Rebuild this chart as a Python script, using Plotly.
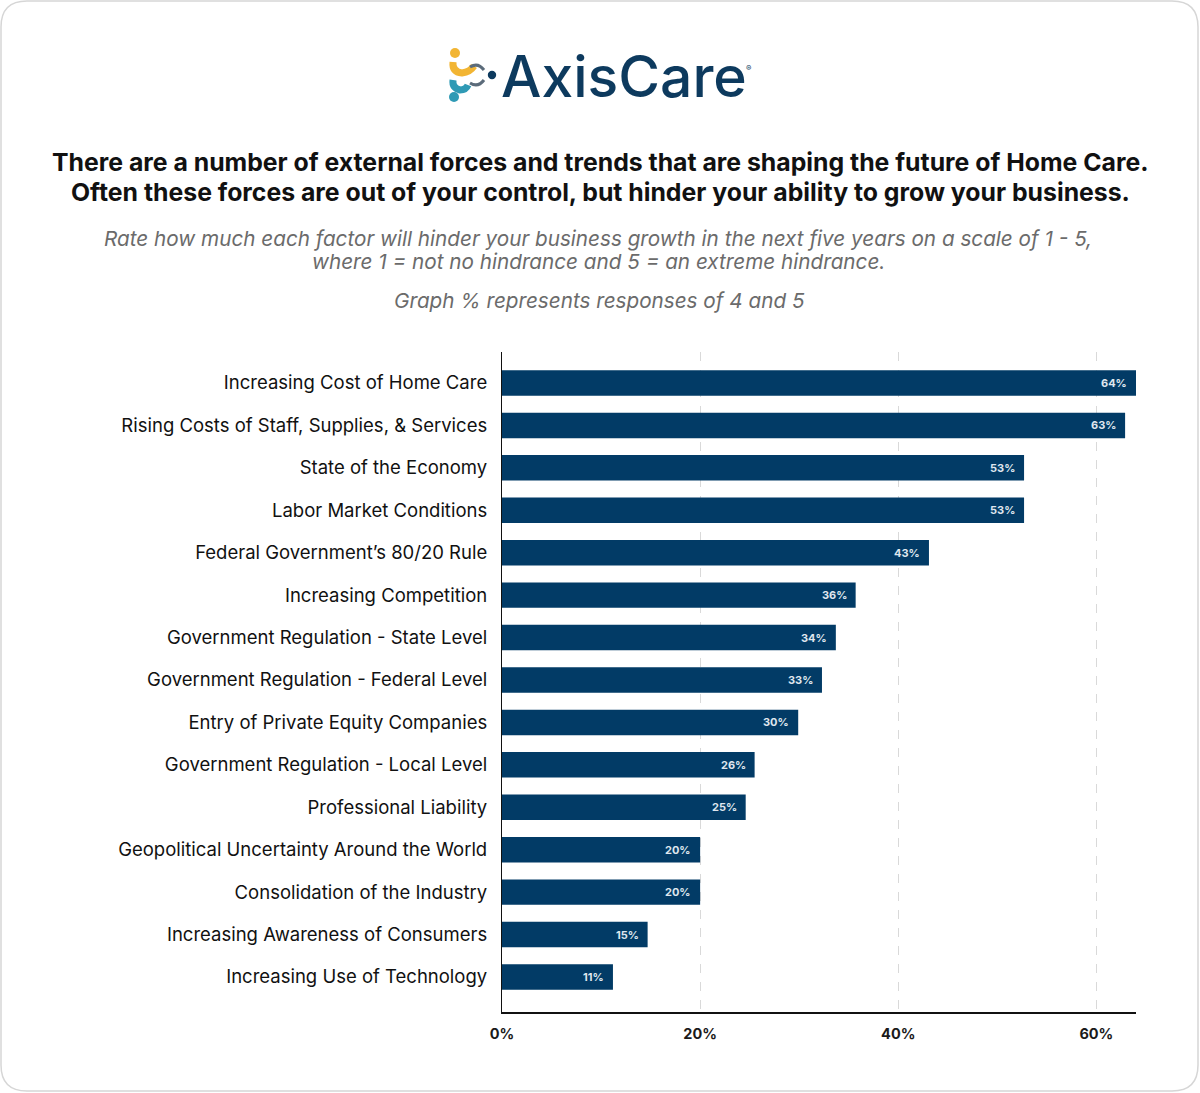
import plotly.graph_objects as go

categories = [
    "Increasing Cost of Home Care",
    "Rising Costs of Staff, Supplies, & Services",
    "State of the Economy",
    "Labor Market Conditions",
    "Federal Government’s 80/20 Rule",
    "Increasing Competition",
    "Government Regulation - State Level",
    "Government Regulation - Federal Level",
    "Entry of Private Equity Companies",
    "Government Regulation - Local Level",
    "Professional Liability",
    "Geopolitical Uncertainty Around the World",
    "Consolidation of the Industry",
    "Increasing Awareness of Consumers",
    "Increasing Use of Technology",
]
values = [64.0, 62.9, 52.7, 52.7, 43.1, 35.7, 33.7, 32.3, 29.9, 25.5, 24.6, 20.0, 20.0, 14.7, 11.2]
value_labels = ["64%", "63%", "53%", "53%", "43%", "36%", "34%", "33%", "30%", "26%", "25%", "20%", "20%", "15%", "11%"]
x_ticks = [0, 20, 40, 60]
x_tick_text = ["0%", "20%", "40%", "60%"]

W, H = 1200, 1093
L, R, T, B = 502, 1136, 352, 1012
NAVY = "#023b66"
FONT = "Inter"


def px(x):
    return (x - L) / (R - L)


def py(y):
    return (B - y) / (B - T)


fig = go.Figure()
fig.add_trace(go.Bar(
    x=values, y=categories, orientation="h",
    marker=dict(color=NAVY, line=dict(width=0)),
    width=0.6, hoverinfo="skip",
))

annotations = []
for v, c, t in zip(values, categories, value_labels):
    annotations.append(dict(x=v, y=c, xref="x", yref="y", text=t, showarrow=False,
                            xanchor="right", yanchor="middle", xshift=-7,
                            font=dict(family=FONT, size=11, color="#dfe6ee", weight=700)))

# Title & subtitle
title_lines = [
    "There are a number of external forces and trends that are shaping the future of Home Care.",
    "Often these forces are out of your control, but hinder your ability to grow your business.",
]
for line, y in zip(title_lines, [162, 192]):
    annotations.append(dict(x=px(600), y=py(y), xref="paper", yref="paper", showarrow=False,
                            xanchor="center", yanchor="middle", text=line,
                            font=dict(family=FONT, size=24.8, color="#111111", weight=700)))
sub_lines = [
    "Rate how much each factor will hinder your business growth in the next five years on a scale of 1 - 5,",
    "where 1 = not no hindrance and 5 = an extreme hindrance.",
    "Graph % represents responses of 4 and 5",
]
for line, y, x in zip(sub_lines, [238, 262, 301], [598, 598, 599]):
    annotations.append(dict(x=px(x), y=py(y), xref="paper", yref="paper", showarrow=False,
                            xanchor="center", yanchor="middle", text=f"<i>{line}</i>",
                            font=dict(family=FONT, size=20.7, color="#6b6b6b")))
# Logo text
annotations.append(dict(x=px(499), y=py(77), xref="paper", yref="paper", showarrow=False,
                        xanchor="left", yanchor="middle", text="AxisCare",
                        font=dict(family=FONT, size=57, color="#0d3a5e", weight=500)))
annotations.append(dict(x=px(744), y=py(68), xref="paper", yref="paper", showarrow=False,
                        xanchor="left", yanchor="middle", text="®",
                        font=dict(family=FONT, size=8, color="#0d3a5e")))

shapes = []
# Rounded border
r = 26
x0, y0, x1, y1 = 1, 1, 1198, 1091


def P(x, y):
    return f"{px(x):.5f},{py(y):.5f}"


path = (f"M {P(x0 + r, y0)} L {P(x1 - r, y0)} Q {P(x1, y0)} {P(x1, y0 + r)} "
        f"L {P(x1, y1 - r)} Q {P(x1, y1)} {P(x1 - r, y1)} L {P(x0 + r, y1)} "
        f"Q {P(x0, y1)} {P(x0, y1 - r)} L {P(x0, y0 + r)} Q {P(x0, y0)} {P(x0 + r, y0)} Z")
shapes.append(dict(type="path", xref="paper", yref="paper", path=path,
                   line=dict(color="#d6d6d6", width=1.5), layer="below"))


# Logo icon
def circle(cx, cy, rad, color):
    return dict(type="circle", xref="paper", yref="paper",
                x0=px(cx - rad), x1=px(cx + rad), y0=py(cy + rad), y1=py(cy - rad),
                fillcolor=color, line=dict(width=0))


YEL, TEAL, GREY = "#f2b533", "#2f9ab5", "#5b6b7a"
shapes.append(dict(type="path", xref="paper", yref="paper",
                   path=f"M {P(453, 62)} Q {P(452, 72)} {P(462, 73)} Q {P(470, 72)} {P(474, 66)}",
                   line=dict(color=YEL, width=7)))
shapes.append(dict(type="path", xref="paper", yref="paper",
                   path=f"M {P(453, 80)} Q {P(452, 88)} {P(460, 90)} Q {P(466, 90)} {P(468, 85)}",
                   line=dict(color=TEAL, width=7)))
shapes.append(dict(type="path", xref="paper", yref="paper",
                   path=f"M {P(470, 67)} Q {P(478, 62)} {P(484, 70)} M {P(470, 83)} Q {P(478, 88)} {P(484, 80)}",
                   line=dict(color=GREY, width=3)))
shapes.append(circle(455, 53, 5, YEL))
shapes.append(circle(454, 97, 5, TEAL))
shapes.append(circle(492, 75, 4.2, "#0d3a5e"))

fig.update_layout(
    width=W, height=H,
    margin=dict(l=L, r=W - R, t=T, b=H - B, pad=0),
    paper_bgcolor="white", plot_bgcolor="white",
    showlegend=False,
    annotations=annotations, shapes=shapes,
    font=dict(family=FONT),
    xaxis=dict(range=[0, 64], tickmode="array", tickvals=x_ticks, ticktext=x_tick_text,
               showgrid=True, gridcolor="#d9d9d9", griddash="dash", gridwidth=1,
               zeroline=False, showline=True, linecolor="#111111", linewidth=1.5,
               ticks="", ticklabelstandoff=8,
               tickfont=dict(family=FONT, size=14.5, color="#1a1a1a", weight=700)),
    yaxis=dict(categoryorder="array", categoryarray=categories,
               range=[14.825, -0.73], showgrid=False, zeroline=False,
               showline=True, linecolor="#111111", linewidth=1.2,
               ticks="", ticklabelstandoff=10,
               tickfont=dict(family=FONT, size=18.5, color="#111111")),
)

fig.write_html("out.html", config={"displayModeBar": False},
               post_script="document.body.style.margin='0';document.body.style.padding='0';")
